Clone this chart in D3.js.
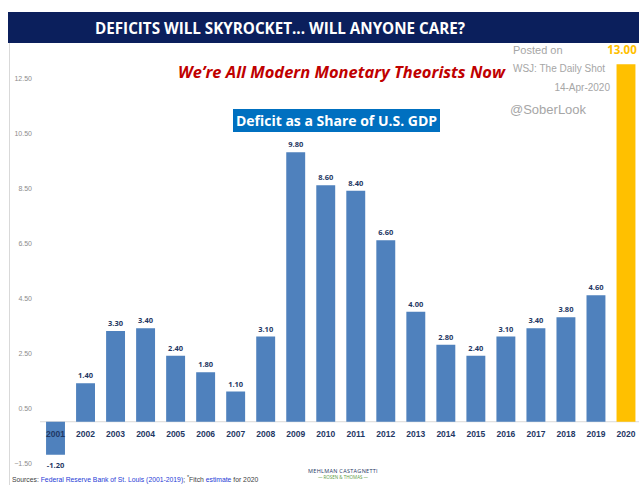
<!DOCTYPE html>
<html>
<head>
<meta charset="utf-8">
<script src="https://cdn.jsdelivr.net/npm/d3@7"></script>
<style>
  body { margin: 0; background: #fff; }
  svg { display: block; font-family: "Open Sans", "Liberation Sans", sans-serif; }
</style>
</head>
<body>
<div id="chart"></div>
<script>
// data
const years = ["2001","2002","2003","2004","2005","2006","2007","2008","2009","2010",
               "2011","2012","2013","2014","2015","2016","2017","2018","2019","2020"];
const deficits = [-1.2, 1.4, 3.3, 3.4, 2.4, 1.8, 1.1, 3.1, 9.8, 8.6,
                  8.4, 6.6, 4.0, 2.8, 2.4, 3.1, 3.4, 3.8, 4.6, 13.0];
const yTicks = [-1.5, 0.5, 2.5, 4.5, 6.5, 8.5, 10.5, 12.5];

const width = 639, height = 485;

const svg = d3.select("#chart")
  .append("svg")
    .attr("width", width)
    .attr("height", height);

// frame line on the left
svg.append("line")
  .attr("x1", 9.5).attr("x2", 9.5).attr("y1", 43).attr("y2", height)
  .attr("stroke", "#d9d9d9");

// title banner
svg.append("rect")
  .attr("x", 8).attr("y", 12).attr("width", width - 8).attr("height", 31)
  .attr("fill", "#0b1f5c");
svg.append("text")
  .attr("x", 95).attr("y", 33.5)
  .attr("textLength", 370).attr("lengthAdjust", "spacingAndGlyphs")
  .style("font-size", "16px").style("font-weight", "bold")
  .attr("fill", "#fff")
  .text("DEFICITS WILL SKYROCKET... WILL ANYONE CARE?");

// scales
const x = d3.scaleBand()
  .domain(years)
  .range([40.5, 641])
  .paddingInner(0.37)
  .paddingOuter(0.185);

const y = d3.scaleLinear()
  .domain([-1.5, 12.5])
  .range([463, 78]);

// y tick labels (no axis line)
const yAxis = svg.append("g")
  .attr("transform", "translate(35,0)")
  .call(d3.axisLeft(y).tickValues(yTicks).tickFormat(d3.format(".2f")).tickSize(0));
yAxis.select(".domain").remove();
yAxis.selectAll("text")
  .attr("fill", "#8c8c8c")
  .style("font-size", "7px")
  .style("font-family", "'Liberation Sans', sans-serif");

// zero line
svg.append("line")
  .attr("x1", 40).attr("x2", width)
  .attr("y1", y(0)).attr("y2", y(0))
  .attr("stroke", "#d9d9d9");

// bars
svg.append("g")
  .selectAll("rect")
  .data(deficits)
  .join("rect")
    .attr("x", (d, i) => x(years[i]))
    .attr("y", d => y(Math.max(0, d)))
    .attr("width", x.bandwidth())
    .attr("height", d => Math.abs(y(d) - y(0)))
    .attr("fill", (d, i) => years[i] === "2020" ? "#ffc000" : "#4f81bd");

// value labels (the 2020 estimate is larger, in orange, pulled left to fit)
svg.append("g")
  .selectAll("text")
  .data(deficits)
  .join("text")
    .attr("x", (d, i) => x(years[i]) + x.bandwidth() / 2 - (years[i] === "2020" ? 4 : 0))
    .attr("y", (d, i) => years[i] === "2020" ? y(d) - 10 : (d < 0 ? y(d) + 13 : y(d) - 5))
    .attr("text-anchor", "middle")
    .style("font-weight", "bold")
    .style("font-size", (d, i) => years[i] === "2020" ? "11.5px" : "7.5px")
    .attr("fill", (d, i) => years[i] === "2020" ? "#ffc000" : "#1f3864")
    .text(d => d.toFixed(2));

// year labels
svg.append("g")
  .attr("transform", `translate(0,${y(0)})`)
  .call(d3.axisBottom(x).tickSize(0).tickPadding(9))
  .call(g => g.select(".domain").remove())
  .selectAll("text")
    .attr("fill", "#1f3864")
    .style("font-weight", "bold")
    .style("font-size", "8.5px");

// subtitle
svg.append("text")
  .attr("x", 178).attr("y", 78)
  .attr("textLength", 327).attr("lengthAdjust", "spacingAndGlyphs")
  .style("font-size", "15.5px").style("font-weight", "bold").style("font-style", "italic")
  .attr("fill", "#c00000")
  .text("We\u2019re All Modern Monetary Theorists Now");

// blue label box
svg.append("rect")
  .attr("x", 233).attr("y", 109).attr("width", 207).attr("height", 23)
  .attr("fill", "#0070c0");
svg.append("text")
  .attr("x", 336.5).attr("y", 126)
  .attr("text-anchor", "middle")
  .style("font-size", "14px").style("font-weight", "bold")
  .attr("fill", "#fff")
  .text("Deficit as a Share of U.S. GDP");

// posted-on notes
const note = svg.append("g")
  .style("font-family", "'Liberation Sans', sans-serif")
  .attr("fill", "#a6a6a6");
note.append("text").attr("x", 513).attr("y", 54).style("font-size", "11px").text("Posted on");
note.append("text").attr("x", 513).attr("y", 72).style("font-size", "10px").text("WSJ: The Daily Shot");
note.append("text").attr("x", 610).attr("y", 91).attr("text-anchor", "end").style("font-size", "10px").text("14-Apr-2020");
note.append("text").attr("x", 510).attr("y", 114).style("font-size", "13px").text("@SoberLook");

// sources
const src = svg.append("text")
  .attr("x", 12).attr("y", 482)
  .style("font-size", "6.8px")
  .style("font-family", "'Liberation Sans', sans-serif")
  .attr("fill", "#404040");
src.append("tspan").text("Sources: ");
src.append("tspan").attr("fill", "#1f3bd6").text("Federal Reserve Bank of St. Louis (2001-2019)");
src.append("tspan").text("; ");
src.append("tspan").attr("dy", -3).style("font-size", "5.5px").text("*");
src.append("tspan").attr("dy", 3).text("Fitch ");
src.append("tspan").attr("fill", "#1f3bd6").text("estimate");
src.append("tspan").text(" for 2020");

// logo
svg.append("text")
  .attr("x", 343).attr("y", 473).attr("text-anchor", "middle")
  .style("font-size", "5.5px").style("letter-spacing", "0.3px")
  .attr("fill", "#1f3864")
  .text("MEHLMAN CASTAGNETTI");
svg.append("text")
  .attr("x", 343).attr("y", 479).attr("text-anchor", "middle")
  .style("font-size", "4.5px")
  .attr("fill", "#5a9a3c")
  .text("\u2014 ROSEN & THOMAS \u2014");
</script>
</body>
</html>
